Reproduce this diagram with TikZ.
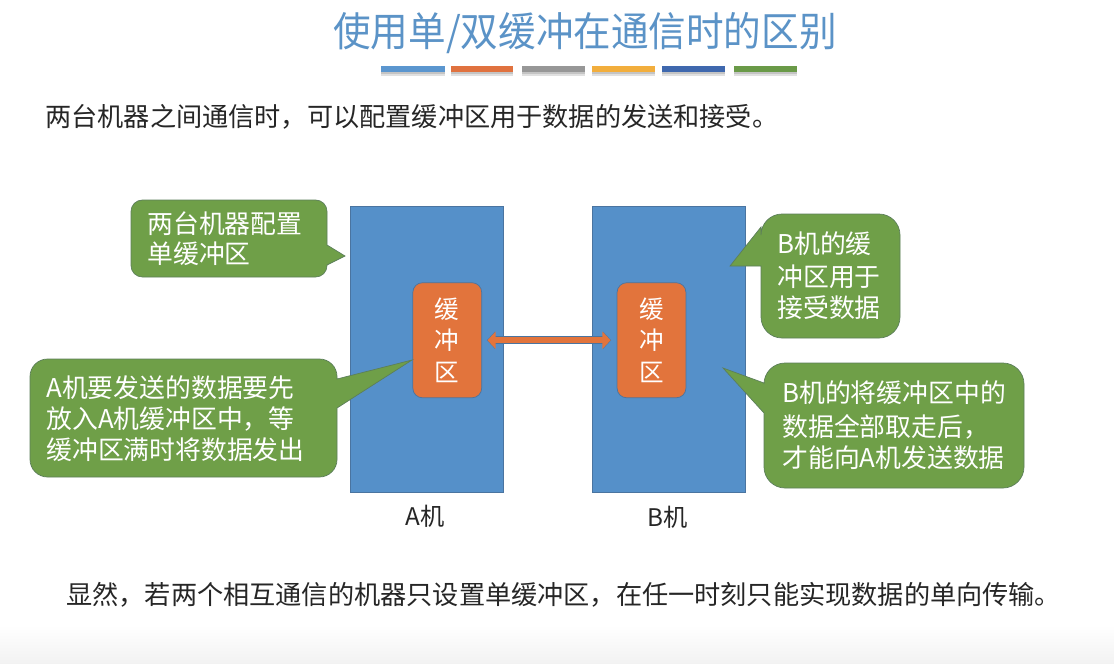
\documentclass[tikz,border=0pt]{standalone}
\usepackage{fontspec}
\setmainfont{Noto Sans CJK SC}
\usetikzlibrary{arrows.meta}
\definecolor{boxblue}{HTML}{5590C9}
\definecolor{boxorange}{HTML}{E2743C}
\definecolor{boxgreen}{HTML}{6F9F48}
\definecolor{edgeblue}{HTML}{4A74A0}
\definecolor{edgegreen}{HTML}{5C7F5A}
\definecolor{titleblue}{HTML}{5B93C7}
\newcommand{\fs}[1]{\fontsize{#1}{#1}\selectfont}
\tikzset{
  x=0.02cm,y=-0.02cm,
  machine/.style={draw=edgeblue,fill=boxblue,line width=0.4pt},
  bufbox/.style={draw=edgeblue,fill=boxorange,line width=0.4pt,rounded corners=5.5pt,minimum width=39.2pt,minimum height=65.5pt,inner sep=0pt,align=center,text=white,font=\fs{14}},
  callout/.style={draw=edgegreen,fill=boxgreen,line width=0.4pt},
  ctext/.style={anchor=west,inner sep=0pt,text=white,font=\fs{14.7}},
  plain/.style={inner sep=0pt,text=black!85,font=\fs{14.9}},
  barshadow/.style={fill=black,opacity=0.12},
  tips/.style={{Triangle[length=4.6pt,width=9.6pt]}-{Triangle[length=4.6pt,width=9.6pt]}},
  linkedge/.style={tips,line width=4.4pt,shorten <=2.8pt,shorten >=3.2pt,draw=edgeblue,fill=edgeblue},
  linkfill/.style={tips,line width=3.6pt,shorten <=3.1pt,shorten >=3.5pt,draw=boxorange,fill=boxorange},
}
\begin{document}
\begin{tikzpicture}
\useasboundingbox (0,0) rectangle (1114,663);
\fill[white] (0,0) rectangle (1114,663);
\shade[top color=white,bottom color=black!5] (0,625) rectangle (1114,663);
% title
\node[inner sep=0pt,text=titleblue,font=\fs{23}] (title) at (585,33) {\scalebox{0.93}[1.0]{使用单/双缓冲在通信时的区别}};
% colour bars
\foreach \a/\b/\c in {381/445/5B96CF,451/513/E0723F,522/585/979797,592/655/F2AE3D,662/725/3F68AE,734/797/6A9A48}{
  \fill[barshadow] (\a,71) rectangle (\b,76);
  \fill[barshadow] (\a,71) rectangle (\b,74);
  \definecolor{barcol}{HTML}{\c}
  \fill[barcol] (\a,66) rectangle (\b,72);
}
\node[plain,anchor=west] (intro) at (45,117) {两台机器之间通信时，可以配置缓冲区用于数据的发送和接受。};
% machines
\node[machine,minimum width=87pt,minimum height=163pt,inner sep=0pt] (machA) at (426.75,349.25) {};
\node[machine,minimum width=87pt,minimum height=163pt,inner sep=0pt] (machB) at (669,349.25) {};
\node[bufbox] (bufA) at (447.25,340.25) {缓\\[4pt]冲\\[4pt]区};
\node[bufbox] (bufB) at (651.5,340.25) {缓\\[4pt]冲\\[4pt]区};
\draw[linkedge] (bufA.east) -- (bufB.west);
\draw[linkfill] (bufA.east) -- (bufB.west);
\node[plain,font=\fs{13.8}] (labA) at (425,516) {A机};
\node[plain,font=\fs{13.8}] (labB) at (668,517) {B机};
% callouts
\draw[callout] (345,256) -- (327,245) [rounded corners=6.5pt] -- (327,200) -- (131,200) -- (131,277) -- (327,277) [sharp corners] -- (327,265) -- cycle;
\node[ctext] (c1a) at (147,224) {两台机器配置};
\node[ctext] (c1b) at (147,254) {单缓冲区};
\draw[callout] (412,360) -- (337,379) [rounded corners=10pt] -- (337,359) -- (30,359) -- (30,477) -- (337,477) [sharp corners] -- (337,408) -- cycle;
\node[ctext] (c2a) at (46,388) {A机要发送的数据要先};
\node[ctext] (c2b) at (46,419) {放入A机缓冲区中，等};
\node[ctext] (c2c) at (46,450) {缓冲区满时将数据发出};
\draw[callout] (730,266) -- (761,227) [rounded corners=12pt] -- (761,214) -- (900,214) -- (900,338) -- (761,338) [sharp corners] -- (761,266) -- cycle;
\node[ctext] (c3a) at (777,244) {B机的缓};
\node[ctext] (c3b) at (777,277) {冲区用于};
\node[ctext] (c3c) at (777,308) {接受数据};
\draw[callout] (723,368) -- (764,383) [rounded corners=12pt] -- (764,363) -- (1024,363) -- (1024,488) -- (764,488) [sharp corners] -- (764,413) -- cycle;
\node[ctext] (c4a) at (782,393) {B机的将缓冲区中的};
\node[ctext] (c4b) at (782,427) {数据全部取走后，};
\node[ctext] (c4c) at (782,458) {才能向A机发送数据};
\node[plain,anchor=west] (concl) at (66,595) {显然，若两个相互通信的机器只设置单缓冲区，在任一时刻只能实现数据的单向传输。};
\end{tikzpicture}
\end{document}
